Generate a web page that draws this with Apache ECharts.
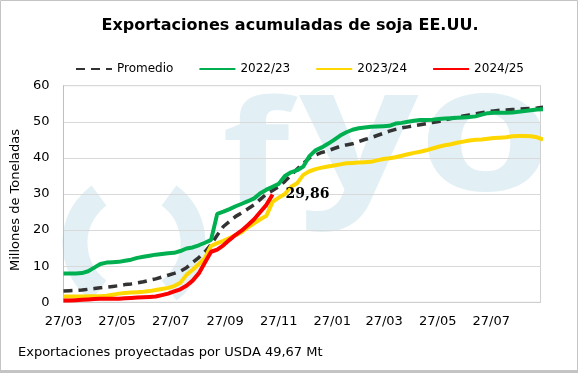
<!DOCTYPE html>
<html>
<head>
<meta charset="utf-8">
<script src="https://cdn.jsdelivr.net/npm/echarts@6/dist/echarts.min.js"></script>
<style>
html,body{margin:0;padding:0;background:#fff;}
#c{width:580px;height:373px;}
</style>
</head>
<body>
<div id="c"></div>
<script>
// ---- data (weekly cumulative exports, million t) ----
const seriesNames = ['Promedio', '2022/23', '2023/24', '2024/25'];
const promedio = [3.1,3.2,3.3,3.4,3.6,3.8,4.0,4.2,4.4,4.6, 4.9,5.1,5.4,5.7,6.1,6.5,7.0,7.5,8.0,8.6, 9.6,11.0,12.4,14.0,16.0,18.6,21.0,22.4,23.8,24.8, 25.9,27.0,28.5,30.0,31.0,32.0,33.5,35.2,36.9,38.5, 40.0,40.8,41.5,42.0,42.6,43.2,43.6,43.9,44.5,45.1, 45.6,46.2,46.8,47.4,47.9,48.3,48.6,48.9,49.2,49.5, 49.8,50.1,50.5,50.9,51.3,51.6,51.9,52.2,52.5,52.8, 53.0,53.2,53.3,53.4,53.5,53.6,53.7,53.8,54.0];
const y2022 = [8.0,8.0,8.0,8.1,8.6,9.6,10.6,11.0,11.1,11.2, 11.5,11.8,12.3,12.6,12.9,13.2,13.4,13.6,13.7,14.2, 14.9,15.2,15.8,16.5,17.3,24.5,25.1,25.8,26.6,27.3, 28.0,28.8,30.2,31.2,32.0,32.8,35.0,36.0,36.6,37.6, 40.5,42.1,42.9,43.9,45.0,46.2,47.1,47.8,48.2,48.4, 48.6,48.7,48.8,48.9,49.5,49.7,50.0,50.3,50.5,50.5, 50.6,50.8,50.9,51.0,51.1,51.2,51.3,51.5,52.0,52.4, 52.5,52.5,52.5,52.6,52.8,53.0,53.2,53.4,53.5];
const y2023 = [1.6,1.6,1.6,1.6,1.7,1.7,1.7,1.8,2.1,2.4, 2.6,2.7,2.8,2.9,3.1,3.4,3.7,4.0,4.5,5.4, 7.6,9.0,10.6,12.2,15.6,16.4,17.0,17.8,18.6,19.5, 20.8,21.9,23.0,24.0,27.8,29.0,30.0,32.0,33.0,35.3, 36.3,36.9,37.3,37.6,37.9,38.2,38.5,38.6,38.7,38.8, 38.9,39.3,39.7,39.9,40.2,40.6,41.0,41.4,41.7,42.1, 42.6,43.1,43.5,43.8,44.2,44.5,44.8,45.0,45.1,45.3, 45.5,45.6,45.7,46.0,46.1,46.1,46.0,45.7,45.1];
const y2024 = [0.5,0.5,0.6,0.7,0.8,0.9,1.0,1.0,1.0,1.0, 1.1,1.2,1.3,1.4,1.5,1.6,2.0,2.4,3.0,3.6, 4.6,6.0,8.0,11.0,14.0,14.6,15.8,17.3,18.7,19.9, 21.4,23.0,25.0,27.0,29.86];
// x-axis: days since 27/03
const tickDays = [0, 61, 122, 184, 245, 306, 365, 426, 487];
const tickLabels = ['27/03','27/05','27/07','27/09','27/11','27/01','27/03','27/05','27/07'];
const xMaxDays = 543;
const daysPerPoint = 7;
const yTicks = [0, 10, 20, 30, 40, 50, 60];

const toPairs = arr => arr.map((v, i) => [i * daysPerPoint, v]);
const fmtComma = v => String(v).replace('.', ',');

const chart = echarts.init(document.getElementById('c'), null, {renderer: 'canvas'});
const FONT = '"DejaVu Sans", Verdana, sans-serif';
const WM = '#e2f0f5';

chart.setOption({
  animation: false,
  backgroundColor: '#fff',
  title: {
    text: 'Exportaciones acumuladas de soja EE.UU.',
    left: 'center', top: 13,
    textStyle: {fontFamily: FONT, fontWeight: 'bold', fontSize: 16, color: '#000'}
  },
  legend: {
    data: seriesNames,
    left: 70, top: 58,
    itemWidth: 36, itemHeight: 14, itemGap: 25,
    itemStyle: {opacity: 0},
    textStyle: {fontFamily: FONT, fontSize: 12, color: '#000'}
  },
  graphic: [
    {type: 'arc', z: -10, shape: {cx: 134, cy: 243, r: 59, startAngle: 126.4*Math.PI/180, endAngle: 233.6*Math.PI/180, clockwise: true}, style: {stroke: WM, lineWidth: 25, fill: null}},
    {type: 'arc', z: -10, shape: {cx: 134, cy: 243, r: 59, startAngle: -53.6*Math.PI/180, endAngle: 53.6*Math.PI/180, clockwise: true}, style: {stroke: WM, lineWidth: 25, fill: null}},
    {type: 'text', z: -10, x: 222, y: 161, scaleX: 1.25, style: {text: 'f', font: 'bold 140px "Open Sans"', fill: WM, verticalAlign: 'middle'}},
    {type: 'text', z: -10, x: 299, y: 140, scaleX: 1.2, style: {text: 'y', font: 'bold 175px "Open Sans"', fill: WM, verticalAlign: 'middle'}},
    {type: 'text', z: -10, x: 418, y: 140, scaleX: 1.25, style: {text: 'o', font: 'bold 175px "Open Sans"', fill: WM, verticalAlign: 'middle'}},
    {type: 'rect', z: -9, shape: {x: 541, y: 80, width: 36, height: 230}, style: {fill: '#fff'}},
    {type: 'rect', z: -9, shape: {x: 40, y: 303.5, width: 520, height: 10}, style: {fill: '#fff'}},
    {type: 'rect', z: 100, shape: {x: 0.5, y: 0.5, width: 577, height: 370}, style: {stroke: '#c4c4c4', lineWidth: 1, fill: null}},
    {type: 'rect', z: 100, shape: {x: 0, y: 370, width: 578, height: 3}, style: {fill: '#c4c4c4'}},
    {type: 'text', z: 100, x: 18, y: 353, style: {text: 'Exportaciones proyectadas por USDA 49,67 Mt', font: '13px ' + FONT, fill: '#000', verticalAlign: 'middle'}}
  ],
  grid: {left: 63.5, right: 39.5, top: 85.7, bottom: 70.7, show: true, borderColor: '#cfcfcf', borderWidth: 1, backgroundColor: 'transparent'},
  xAxis: {
    type: 'value', min: 0, max: xMaxDays,
    axisLine: {show: true, lineStyle: {color: '#cfcfcf'}},
    axisTick: {show: false},
    splitLine: {show: false},
    axisLabel: {
      customValues: tickDays,
      formatter: v => tickLabels[tickDays.indexOf(v)] || '',
      margin: 13, fontFamily: FONT, fontSize: 13, color: '#000'
    }
  },
  yAxis: {
    type: 'value', min: yTicks[0], max: yTicks[yTicks.length-1], interval: 10,
    name: 'Millones de Toneladas', nameLocation: 'middle', nameGap: 41,
    nameTextStyle: {fontFamily: FONT, fontSize: 13, color: '#000', padding: [0, 12, 0, 0]},
    axisLine: {show: true, lineStyle: {color: '#bfbfbf'}},
    axisTick: {show: false},
    splitLine: {lineStyle: {color: '#d9d9d9'}},
    axisLabel: {margin: 14, fontFamily: FONT, fontSize: 13, color: '#000'}
  },
  series: [
    {name: seriesNames[0], type: 'line', data: toPairs(promedio), showSymbol: false, symbol: 'none',
     lineStyle: {color: '#333333', width: 3.5, type: [9, 6]}, itemStyle: {color: '#333333'}},
    {name: seriesNames[1], type: 'line', data: toPairs(y2022), showSymbol: false, symbol: 'none',
     lineStyle: {color: '#00b050', width: 4}, itemStyle: {color: '#00b050'}},
    {name: seriesNames[2], type: 'line', data: toPairs(y2023), showSymbol: false, symbol: 'none',
     lineStyle: {color: '#ffd700', width: 4}, itemStyle: {color: '#ffd700'}},
    {name: seriesNames[3], type: 'line', data: toPairs(y2024), showSymbol: false, symbol: 'none',
     lineStyle: {color: '#ff0000', width: 4}, itemStyle: {color: '#ff0000'},
     endLabel: {show: true, distance: 13, formatter: p => fmtComma(p.value[1]),
       fontFamily: '"DejaVu Serif", serif', fontWeight: 'bold', fontSize: 14, color: '#000'}}
  ]
});
</script>
</body>
</html>
